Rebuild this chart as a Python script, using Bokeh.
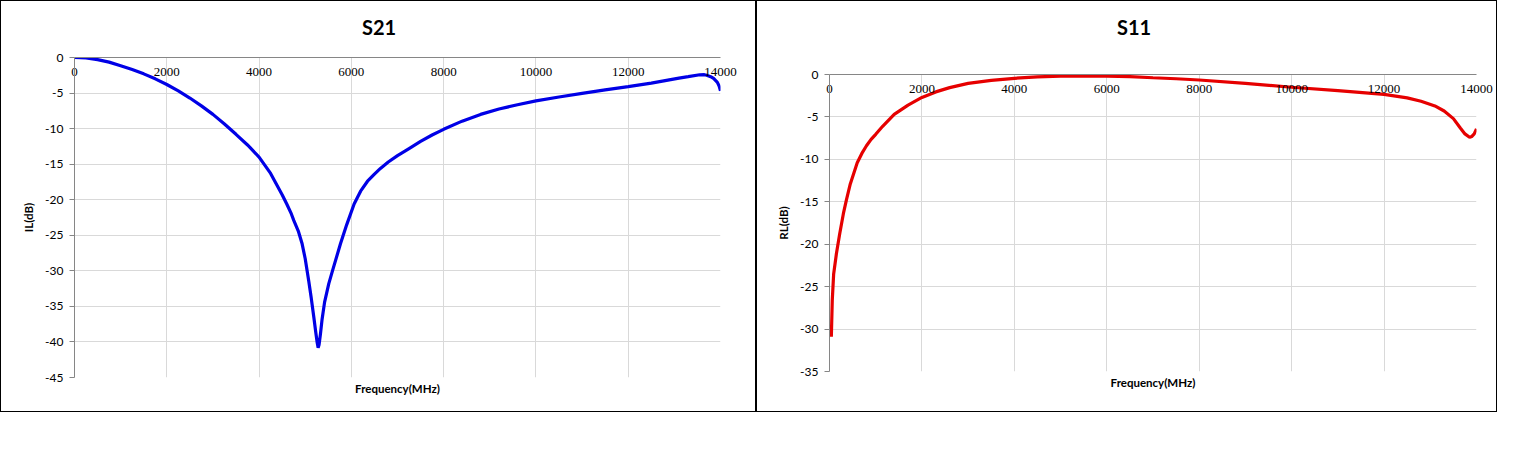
from bokeh.plotting import figure
from bokeh.layouts import row, column
from bokeh.models import LinearAxis, FixedTicker, Range1d, Div
from bokeh.embed import file_html
from bokeh.resources import INLINE

# S21 insertion loss
s21_freq = [0, 250, 500, 750, 1000, 1250, 1500, 1750, 2000, 2250, 2500, 2750,
            3000, 3250, 3500, 3750, 4000, 4250, 4500, 4600, 4700, 4752, 4850,
            4933, 5000, 5078, 5130, 5186, 5230, 5260, 5280, 5300, 5330, 5366,
            5420, 5511, 5600, 5764, 5900, 6060, 6200, 6350, 6500, 6630, 6800,
            7000, 7250, 7500, 7750, 8000, 8400, 8800, 9200, 9600, 10000, 10500,
            11000, 11500, 12000, 12500, 13100, 13300, 13550, 13650, 13700,
            13787, 13850, 13932, 13970, 14000]
s21_db = [0, -0.05, -0.3, -0.65, -1.15, -1.7, -2.3, -3.0, -3.8, -4.7, -5.7,
          -6.8, -8.0, -9.35, -10.8, -12.3, -14.0, -16.3, -19.3, -20.6, -22.0,
          -22.9, -24.4, -26.2, -28.3, -31.5, -33.8, -36.5, -38.7, -40.1, -40.8,
          -40.4, -38.9, -36.8, -34.4, -31.8, -29.8, -26.2, -23.5, -20.6, -18.8,
          -17.4, -16.4, -15.6, -14.7, -13.8, -12.8, -11.8, -10.9, -10.1, -8.95,
          -8.0, -7.25, -6.65, -6.1, -5.55, -5.05, -4.55, -4.1, -3.6, -2.9,
          -2.7, -2.43, -2.42, -2.5, -2.7, -2.95, -3.5, -4.0, -4.68]

# S11 return loss
s11_freq = [40, 60, 90, 150, 220, 300, 365, 450, 600, 700, 800, 900, 1000,
            1150, 1400, 1700, 2000, 2300, 2600, 3000, 3500, 4000, 4500, 5000,
            5500, 6000, 6500, 7000, 7500, 8000, 9000, 10000, 11000, 12000,
            12500, 12800, 13100, 13300, 13500, 13650, 13750, 13850, 13900,
            13950, 14000]
s11_db = [-30.9, -26.6, -23.5, -21.1, -18.8, -16.4, -14.8, -12.9, -10.4, -9.3,
          -8.4, -7.65, -7.05, -6.1, -4.7, -3.6, -2.7, -2.05, -1.55, -1.05,
          -0.7, -0.45, -0.28, -0.2, -0.17, -0.18, -0.25, -0.38, -0.5, -0.65,
          -1.05, -1.5, -1.9, -2.35, -2.75, -3.15, -3.7, -4.3, -5.2, -6.3, -7.0,
          -7.4, -7.3, -7.0, -6.4]

freq_ticks = [0, 2000, 4000, 6000, 8000, 10000, 12000, 14000]
s21_ticks = [0, -5, -10, -15, -20, -25, -30, -35, -40, -45]
s11_ticks = [0, -5, -10, -15, -20, -25, -30, -35]

TITLE_H = 44


def make_title(text, width, indent):
    return Div(text=text, width=width, height=TITLE_H, margin=0,
               styles={"font-family": "Lato", "font-weight": "bold",
                       "font-size": "20px", "color": "black",
                       "line-height": "52px", "text-indent": f"{indent}px",
                       "white-space": "nowrap"})


def make_chart(ylabel, freq, db, color, yticks, width, height, top, bottom, left, right):
    p = figure(width=width, height=height, x_range=Range1d(0, 14000),
               y_range=Range1d(min(yticks), 0), x_axis_location="above",
               output_backend="svg", toolbar_location=None,
               min_border_left=left, min_border_right=right,
               min_border_top=top, min_border_bottom=bottom)
    p.outline_line_color = None

    # frequency axis on the 0 dB line, labels hanging under it
    xt = p.xaxis[0]
    xt.ticker = FixedTicker(ticks=freq_ticks)
    xt.axis_line_color = "#868686"
    xt.major_tick_line_color = None
    xt.minor_tick_line_color = None
    xt.major_tick_in = 0
    xt.major_tick_out = 0
    xt.major_label_standoff = -18
    xt.major_label_text_font = "Liberation Serif"
    xt.major_label_text_font_size = "13px"
    xt.major_label_text_color = "black"

    # bottom axis only carries the axis title
    xb = LinearAxis(ticker=FixedTicker(ticks=[]), axis_label="Frequency(MHz)")
    xb.axis_line_color = None
    xb.major_tick_line_color = None
    xb.minor_tick_line_color = None
    xb.major_label_standoff = 0
    xb.axis_label_standoff = 4
    xb.axis_label_text_font = "Lato"
    xb.axis_label_text_font_size = "11.5px"
    xb.axis_label_text_font_style = "bold"
    xb.axis_label_text_color = "black"
    p.add_layout(xb, "below")

    ya = p.yaxis[0]
    ya.ticker = FixedTicker(ticks=yticks)
    ya.major_label_overrides = {t: str(t) for t in yticks}
    ya.axis_label = ylabel
    ya.axis_line_color = "#868686"
    ya.major_tick_line_color = "#868686"
    ya.major_tick_in = 0
    ya.major_tick_out = 5
    ya.minor_tick_line_color = None
    ya.major_label_standoff = 6
    ya.major_label_text_font = "Lato"
    ya.major_label_text_font_size = "12px"
    ya.major_label_text_color = "black"
    ya.axis_label_standoff = 7
    ya.axis_label_text_font = "Lato"
    ya.axis_label_text_font_size = "11.5px"
    ya.axis_label_text_font_style = "bold"
    ya.axis_label_text_color = "black"

    p.xgrid.grid_line_color = "#d9d9d9"
    p.ygrid.grid_line_color = "#d9d9d9"

    p.line(freq, db, line_color=color, line_width=3.2)
    return p


p21 = make_chart("IL(dB)", s21_freq, s21_db, "#0000e6", s21_ticks,
                 754, 410 - TITLE_H, 12, 34, 73, 35)
p11 = make_chart("RL(dB)", s11_freq, s11_db, "#e60000", s11_ticks,
                 739, 410 - TITLE_H, 29, 40, 72, 20)

box = {"border": "1px solid black"}
left_box = column(make_title("S21", 754, 361), p21, styles=box, spacing=0)
right_box = column(make_title("S11", 739, 360), p11, styles=box, spacing=0)
layout = row(left_box, right_box)
open("out.html", "w").write(file_html(layout, INLINE))
